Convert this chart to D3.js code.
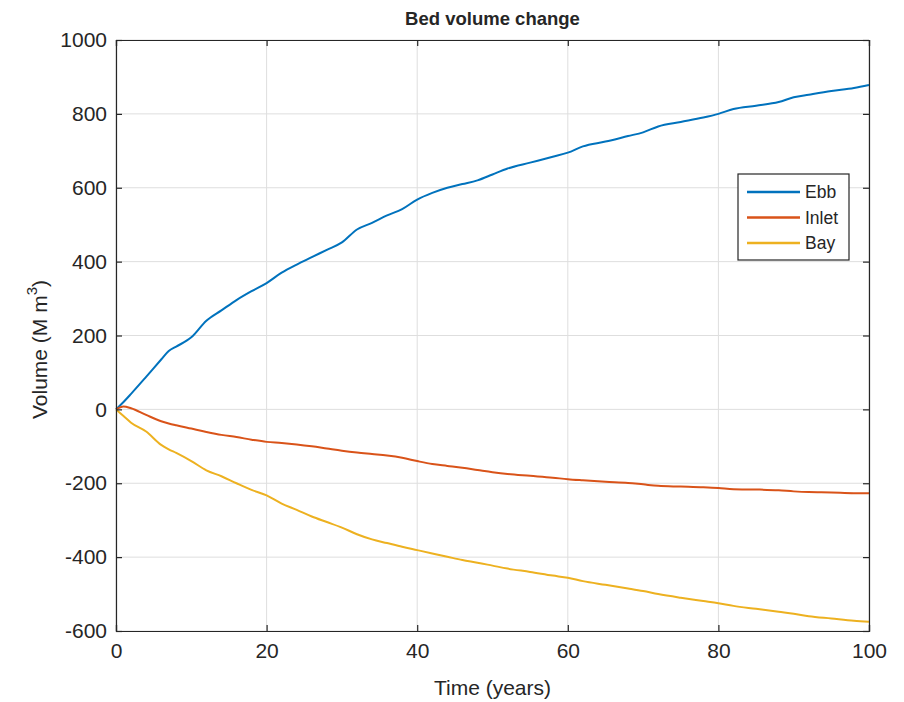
<!DOCTYPE html>
<html>
<head>
<meta charset="utf-8">
<script src="https://cdn.jsdelivr.net/npm/d3@7/dist/d3.min.js"></script>
<style>
  html, body { margin: 0; padding: 0; background: #fff; }
  svg text { font-family: "Liberation Sans", Arial, Helvetica, sans-serif; fill: #262626; }
</style>
</head>
<body>
<svg id="chart" width="904" height="702"></svg>
<script>
// Simulation output: cumulative bed volume change per zone (million m^3)
const years = [0,1,2,4,6,7,8,10,12,14,16,18,20,22,24,26,28,30,32,34,36,38,40,42,44,46,48,50,52,55,58,60,62,65,68,70,72,75,78,80,82,85,88,90,92,95,98,100];
const ebb   = [0,20,42,88,135,158,170,195,240,268,296,320,342,370,392,412,432,452,487,505,525,542,568,586,600,610,620,636,652,668,684,695,712,725,740,750,766,778,790,800,813,822,832,845,852,862,870,878];
const inlet = [0,8,3,-15,-32,-38,-43,-52,-61,-69,-75,-82,-88,-91,-95,-100,-106,-112,-117,-121,-125,-131,-140,-148,-153,-158,-164,-170,-175,-180,-185,-189,-192,-196,-199,-203,-207,-209,-211,-213,-216,-217,-219,-222,-224,-225,-227,-227];
const bay   = [0,-18,-36,-60,-96,-108,-118,-140,-165,-181,-200,-218,-233,-255,-272,-290,-305,-320,-338,-352,-362,-372,-381,-390,-399,-408,-415,-423,-431,-440,-450,-456,-465,-475,-485,-492,-500,-510,-519,-525,-532,-540,-548,-553,-560,-566,-572,-575];

const seriesNames = ["Ebb", "Inlet", "Bay"];
const seriesColors = ["#0072BD", "#D95319", "#EDB120"];
const xTicks = [0, 20, 40, 60, 80, 100];
const yTicks = [-600, -400, -200, 0, 200, 400, 600, 800, 1000];

const svg = d3.select("#chart");
const plot = { left: 116, right: 869, top: 40, bottom: 631 };

const x = d3.scaleLinear().domain([0, 100]).range([plot.left, plot.right]);
const y = d3.scaleLinear().domain([-600, 1000]).range([plot.bottom, plot.top]);

// grid
const grid = svg.append("g");
grid.selectAll("line.gx").data(xTicks).join("line")
  .attr("x1", d => x(d)).attr("x2", d => x(d))
  .attr("y1", plot.top).attr("y2", plot.bottom)
  .attr("stroke", "#dedede").attr("stroke-width", 1);
grid.selectAll("line.gy").data(yTicks).join("line")
  .attr("x1", plot.left).attr("x2", plot.right)
  .attr("y1", d => y(d)).attr("y2", d => y(d))
  .attr("stroke", "#dedede").attr("stroke-width", 1);

// lines
const series = [ebb, inlet, bay];
const line = d3.line().x((d, i) => x(years[i])).y(d => y(d)).curve(d3.curveMonotoneX);
series.forEach((vals, k) => {
  svg.append("path").datum(vals)
    .attr("fill", "none")
    .attr("stroke", seriesColors[k])
    .attr("stroke-width", 2)
    .attr("stroke-linejoin", "round")
    .attr("d", line);
});

// axes (ticks inward, box on)
const axisColor = "#262626";
const fs = 21;
const fmt = d => String(d); // plain hyphen for negatives
const bottomAxis = d3.axisBottom(x).tickValues(xTicks).tickSize(-6).tickPadding(12).tickFormat(fmt);
const leftAxis = d3.axisLeft(y).tickValues(yTicks).tickSize(-6).tickPadding(9).tickFormat(fmt);
const topAxis = d3.axisTop(x).tickValues(xTicks).tickSize(-6).tickFormat("");
const rightAxis = d3.axisRight(y).tickValues(yTicks).tickSize(-6).tickFormat("");

function styleAxis(g) {
  g.select(".domain").attr("stroke", axisColor).attr("stroke-width", 1.2);
  g.selectAll(".tick line").attr("stroke", axisColor).attr("stroke-width", 1.2);
  g.selectAll(".tick text").attr("font-size", fs).attr("fill", axisColor)
    .style("font-family", "'Liberation Sans', Arial, sans-serif");
}
svg.append("g").attr("transform", `translate(0,${plot.bottom})`).call(bottomAxis).call(styleAxis);
svg.append("g").attr("transform", `translate(${plot.left},0)`).call(leftAxis).call(styleAxis);
svg.append("g").attr("transform", `translate(0,${plot.top})`).call(topAxis).call(styleAxis);
svg.append("g").attr("transform", `translate(${plot.right},0)`).call(rightAxis).call(styleAxis);

// title
svg.append("text")
  .attr("x", (plot.left + plot.right) / 2).attr("y", 25)
  .attr("text-anchor", "middle")
  .attr("font-size", 18.5).attr("font-weight", "bold")
  .text("Bed volume change");

// x label
svg.append("text")
  .attr("x", (plot.left + plot.right) / 2).attr("y", 695)
  .attr("text-anchor", "middle")
  .attr("font-size", 21)
  .text("Time (years)");

// y label
const yl = svg.append("text")
  .attr("transform", `translate(47,${(plot.top + plot.bottom) / 2 + 14}) rotate(-90)`)
  .attr("text-anchor", "middle")
  .attr("font-size", 21);
yl.append("tspan").text("Volume (M m");
yl.append("tspan").attr("font-size", 15).attr("dy", -10).text("3");
yl.append("tspan").attr("dy", 10).text(")");

// legend
const lg = svg.append("g");
lg.append("rect")
  .attr("x", 738).attr("y", 174).attr("width", 111).attr("height", 86)
  .attr("fill", "#fff").attr("stroke", axisColor).attr("stroke-width", 1.2);
seriesNames.forEach((name, k) => {
  const yy = 192 + k * 25.5;
  lg.append("line")
    .attr("x1", 747).attr("x2", 800).attr("y1", yy).attr("y2", yy)
    .attr("stroke", seriesColors[k]).attr("stroke-width", 2.5);
  lg.append("text")
    .attr("x", 805).attr("y", yy + 6)
    .attr("font-size", 17.5)
    .text(name);
});
</script>
</body>
</html>
